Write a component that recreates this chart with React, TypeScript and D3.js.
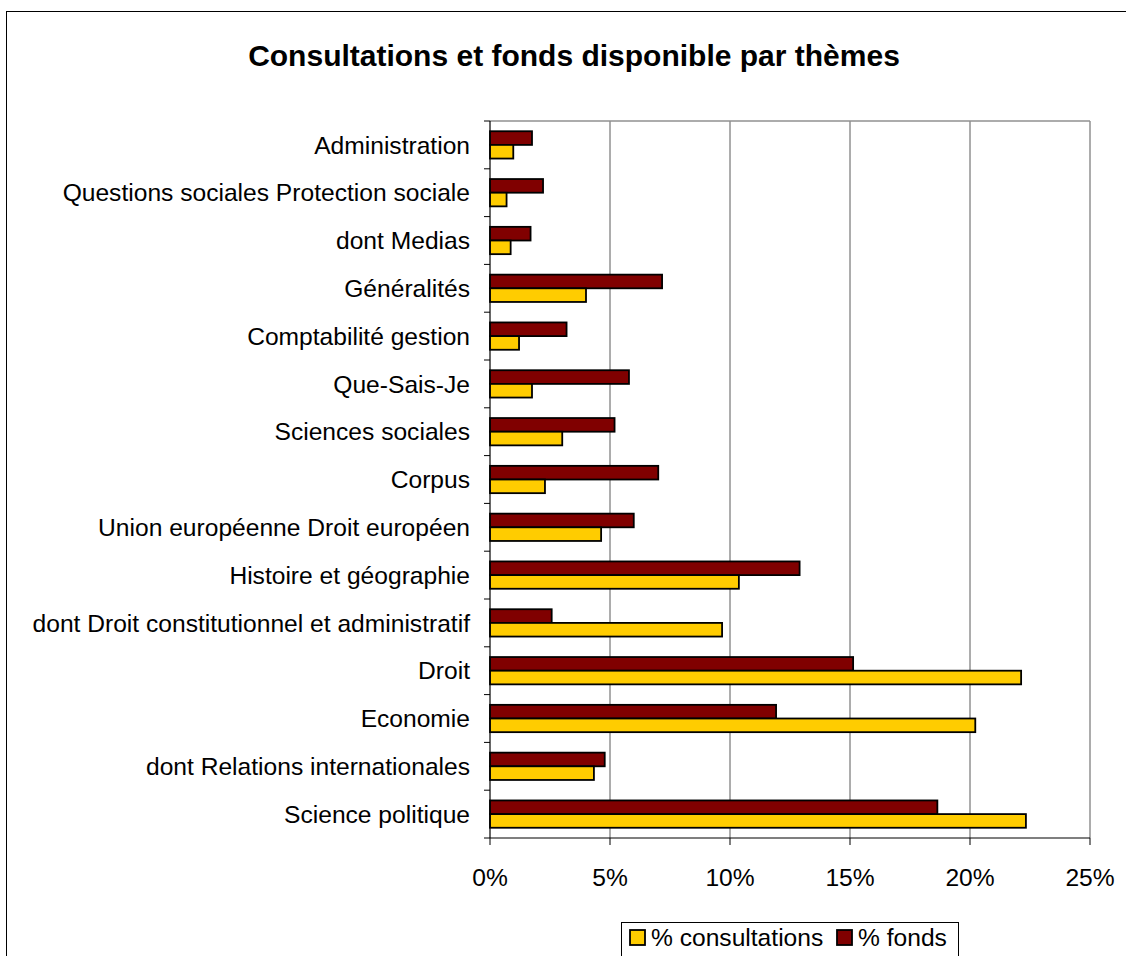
import React from "react";
import * as d3 from "d3";

const categories = [
  "Administration",
  "Questions sociales Protection sociale",
  "dont Medias",
  "Généralités",
  "Comptabilité gestion",
  "Que-Sais-Je",
  "Sciences sociales",
  "Corpus",
  "Union européenne Droit européen",
  "Histoire et géographie",
  "dont Droit constitutionnel et administratif",
  "Droit",
  "Economie",
  "dont Relations internationales",
  "Science politique",
];

const consultations = [0.97, 0.69, 0.86, 4.0, 1.21, 1.75, 3.01, 2.29, 4.63, 10.37, 9.67, 22.13, 20.22, 4.33, 22.33];
const fonds = [1.75, 2.21, 1.69, 7.17, 3.19, 5.79, 5.19, 7.01, 5.99, 12.9, 2.57, 15.13, 11.92, 4.78, 18.64];

const xTicks = [0, 5, 10, 15, 20, 25];
const seriesNames = ["% fonds", "% consultations"];
const seriesColors: Record<string, string> = { "% fonds": "#800000", "% consultations": "#FFCC00" };
const title = "Consultations et fonds disponible par thèmes";

const W = 1126;
const H = 956;
const FONT = "'Liberation Sans', Arial, sans-serif";
const FS = 24.6;

export default function App() {
  const left = 490, right = 1090, top = 121, bottom = 838;
  const x = d3.scaleLinear().domain([0, 25]).range([left, right]);
  const y = d3.scaleBand<string>().domain(categories).range([top, bottom]).padding(0);
  const inner = d3
    .scaleBand<string>()
    .domain(seriesNames)
    .range([0, y.bandwidth()])
    .paddingInner(0)
    .paddingOuter(0.75);

  const boundaries = d3.range(categories.length + 1).map((i) => top + i * y.step());

  return (
    <svg
      width={W}
      height={H}
      style={{ position: "absolute", left: 0, top: 0, display: "block", background: "#fff" }}
      fontFamily={FONT}
    >
      <rect x={0} y={0} width={W} height={H} fill="#fff" />
      {/* chart frame */}
      <rect x={6.5} y={11.5} width={1200} height={1000} fill="none" stroke="#000" strokeWidth={1} />
      <text x={574} y={66} textAnchor="middle" fontSize={30} fontWeight="bold" fill="#000">
        {title}
      </text>

      {/* gridlines */}
      {xTicks.slice(1, -1).map((t) => (
        <line key={"g" + t} x1={x(t)} x2={x(t)} y1={top} y2={bottom} stroke="#5a5a5a" strokeWidth={1} />
      ))}
      {/* plot area border top & right */}
      <line x1={left} x2={right} y1={top} y2={top} stroke="#909090" strokeWidth={1.5} />
      <line x1={right} x2={right} y1={top} y2={bottom} stroke="#909090" strokeWidth={1.5} />

      {/* bars */}
      {categories.map((c, i) => (
        <g key={c} transform={`translate(0,${y(c)})`}>
          <rect
            x={x(0)}
            y={inner("% fonds")}
            width={x(fonds[i]) - x(0)}
            height={inner.bandwidth()}
            fill={seriesColors["% fonds"]}
            stroke="#000"
            strokeWidth={1.8}
          />
          <rect
            x={x(0)}
            y={inner("% consultations")}
            width={x(consultations[i]) - x(0)}
            height={inner.bandwidth()}
            fill={seriesColors["% consultations"]}
            stroke="#000"
            strokeWidth={1.8}
          />
        </g>
      ))}

      {/* axes */}
      <line x1={left} x2={left} y1={top} y2={bottom} stroke="#000" strokeWidth={1.2} />
      <line x1={left} x2={right} y1={bottom} y2={bottom} stroke="#000" strokeWidth={1.2} />
      {boundaries.map((b, i) => (
        <line key={"yt" + i} x1={left - 6} x2={left} y1={b} y2={b} stroke="#000" strokeWidth={1} />
      ))}
      {xTicks.map((t) => (
        <line key={"xt" + t} x1={x(t)} x2={x(t)} y1={bottom} y2={bottom + 7} stroke="#000" strokeWidth={1} />
      ))}

      {/* labels */}
      {categories.map((c) => (
        <text key={"l" + c} x={470} y={(y(c) as number) + y.bandwidth() / 2 + 8.7} textAnchor="end" fontSize={FS} fill="#000">
          {c}
        </text>
      ))}
      {xTicks.map((t) => (
        <text key={"xl" + t} x={x(t)} y={886} textAnchor="middle" fontSize={FS} fill="#000">
          {t + "%"}
        </text>
      ))}

      {/* legend */}
      <rect x={621.5} y={922.5} width={337} height={60} fill="#fff" stroke="#000" strokeWidth={1} />
      <rect x={630} y={930} width={15} height={15} fill={seriesColors["% consultations"]} stroke="#000" strokeWidth={1.8} />
      <text x={651} y={946} fontSize={FS} fill="#000">% consultations</text>
      <rect x={837} y={930} width={15} height={15} fill={seriesColors["% fonds"]} stroke="#000" strokeWidth={1.8} />
      <text x={858} y={946} fontSize={FS} fill="#000">% fonds</text>
    </svg>
  );
}
